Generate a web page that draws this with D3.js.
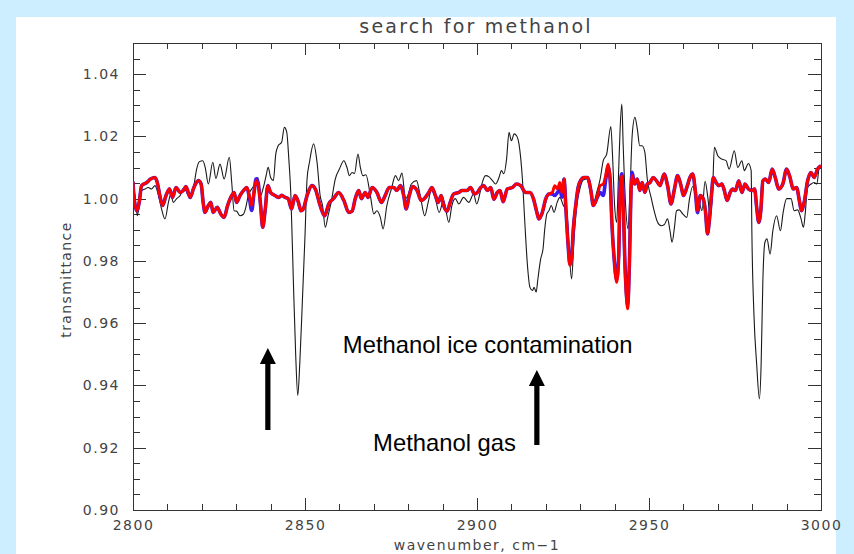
<!DOCTYPE html>
<html>
<head>
<meta charset="utf-8">
<script src="https://cdn.jsdelivr.net/npm/d3@7"></script>
<style>
  body { margin: 0; background: #cdeefe; }
  svg { display: block; }
  .axis text { font-family: "DejaVu Sans", sans-serif; font-size: 14px; fill: #444; letter-spacing: 1.5px; }
  .axis line { stroke: #333; }
</style>
</head>
<body>
<div id="chart"></div>
<script>
// measured spectrum (black) and two model fits (blue under red), [wavenumber, transmittance]
const blackSpectrum = [
  [2800.0,1.0052],[2800.6,1.0010],[2801.25,0.9945],[2801.8,0.9978],[2802.5,1.0026],[2803.5,1.0031],[2804.4,1.0036],[2805.4,1.0031],
  [2806.4,1.0042],[2807.4,1.0010],[2808.3,0.9967],[2809.3,0.9935],[2810.3,0.9988],[2811.0,1.0015],[2811.7,0.9988],[2812.7,1.0000],
  [2813.7,1.0010],[2814.8,1.0036],[2815.8,1.0015],[2816.8,1.0000],[2817.7,1.0042],[2818.5,1.0095],[2819.3,1.0119],[2820.3,1.0122],
  [2821.0,1.0100],[2821.9,1.0047],[2823.2,1.0117],[2824.1,1.0065],[2825.3,1.0111],[2826.5,1.0063],[2828.0,1.0133],[2828.7,1.0052],
  [2829.4,0.9961],[2830.1,0.9960],[2831.1,0.9945],[2832.1,0.9950],[2832.8,0.9972],[2833.5,1.0010],[2834.5,1.0031],[2835.5,1.0047],
  [2836.3,1.0068],[2837.1,1.0010],[2837.9,1.0036],[2838.7,1.0074],[2839.3,1.0101],[2840.0,1.0068],[2840.8,1.0058],[2841.5,1.0143],
  [2842.2,1.0170],[2843.2,1.0181],[2844.0,1.0229],[2844.7,1.0213],[2845.3,1.0127],[2845.9,1.0010],[2846.6,0.9742],[2847.3,0.9496],
  [2847.9,0.9368],[2848.5,0.9475],[2849.3,0.9689],[2850.0,0.9881],[2850.6,1.0063],[2851.3,1.0117],[2852.5,1.0176],[2853.5,1.0117],
  [2854.4,1.0010],[2855.1,0.9978],[2855.9,0.9908],[2856.7,0.9945],[2857.6,0.9988],[2858.8,1.0063],[2860.0,1.0095],[2861.3,1.0122],
  [2862.2,1.0100],[2862.9,1.0074],[2863.7,1.0084],[2864.4,1.0081],[2865.4,1.0143],[2866.1,1.0100],[2866.8,1.0074],[2867.7,1.0077],
  [2869.0,1.0010],[2870.0,0.9951],[2870.9,0.9961],[2871.9,0.9940],[2872.7,0.9903],[2873.8,0.9978],[2875.1,1.0031],[2876.3,1.0074],
  [2877.2,1.0058],[2878.2,1.0082],[2879.2,1.0000],[2879.9,1.0010],[2880.9,1.0047],[2882.4,1.0058],[2883.5,1.0010],[2884.8,0.9945],
  [2885.8,0.9988],[2886.7,1.0026],[2887.7,1.0010],[2889.0,0.9956],[2890.3,0.9994],[2891.8,0.9924],[2892.7,0.9978],[2893.7,1.0000],
  [2894.7,0.9983],[2896.1,1.0004],[2897.6,0.9988],[2899.0,1.0015],[2899.9,0.9983],[2900.9,1.0020],[2901.5,1.0050],[2902.5,1.0074],
  [2903.5,1.0070],[2904.5,1.0058],[2905.4,1.0047],[2906.4,1.0068],[2907.1,1.0090],[2907.8,1.0080],[2908.6,1.0127],[2909.3,1.0213],
  [2910.0,1.0186],[2910.8,1.0208],[2911.5,1.0202],[2912.2,1.0176],[2913.2,1.0063],[2913.9,0.9924],[2914.6,0.9796],[2915.4,0.9715],
  [2916.1,0.9705],[2916.6,0.9715],[2917.2,0.9700],[2917.7,0.9742],[2918.5,0.9806],[2919.2,0.9839],[2919.7,0.9903],[2920.3,0.9951],
  [2920.9,0.9961],[2921.6,0.9978],[2922.4,0.9956],[2923.3,0.9988],[2924.1,1.0004],[2925.1,0.9978],[2926.1,0.9961],[2926.7,0.9849],
  [2927.5,0.9742],[2928.2,0.9870],[2929.0,0.9978],[2929.9,1.0031],[2930.9,1.0060],[2931.9,1.0063],[2932.8,1.0036],[2933.8,0.9983],
  [2934.8,1.0020],[2935.8,1.0063],[2936.7,1.0122],[2937.7,1.0143],[2938.9,1.0232],[2939.4,1.0138],[2940.0,0.9978],[2940.6,0.9924],
  [2941.1,1.0063],[2941.6,1.0224],[2942.1,1.0304],[2942.5,1.0170],[2943.2,0.9978],[2943.9,0.9903],[2944.5,1.0030],[2945.1,1.0202],
  [2945.9,1.0261],[2946.6,1.0224],[2947.3,1.0170],[2948.0,1.0170],[2948.8,1.0149],[2949.5,1.0063],[2950.0,1.0031],[2950.6,1.0004],
  [2951.5,0.9961],[2952.5,0.9924],[2953.5,0.9913],[2954.4,0.9916],[2955.4,0.9935],[2956.1,0.9897],[2956.7,0.9860],[2957.4,0.9908],
  [2958.0,0.9961],[2958.8,0.9964],[2959.8,0.9951],[2961.0,0.9940],[2961.7,0.9994],[2962.7,1.0039],[2963.7,1.0004],[2964.6,0.9988],
  [2965.4,0.9961],[2966.3,1.0056],[2967.1,1.0004],[2967.8,0.9940],[2968.5,1.0026],[2969.0,1.0165],[2970.0,1.0138],[2971.2,1.0127],
  [2972.4,1.0122],[2973.3,1.0095],[2974.8,1.0154],[2975.8,1.0100],[2977.0,1.0122],[2977.7,1.0090],[2978.9,1.0113],[2979.7,1.0090],
  [2979.9,0.9897],[2980.5,0.9630],[2981.3,0.9469],[2982.1,0.9357],[2982.6,0.9469],[2983.1,0.9737],[2983.7,0.9860],[2984.3,0.9871],
  [2985.2,0.9822],[2986.0,0.9897],[2987.1,0.9945],[2988.2,0.9897],[2989.0,0.9956],[2990.0,1.0000],[2991.3,1.0000],[2992.2,0.9961],
  [2993.2,0.9964],[2994.2,0.9935],[2994.9,0.9908],[2995.4,0.9951],[2996.1,1.0036],[2997.1,1.0047],[2998.0,1.0052],[2998.8,1.0047],
  [2999.5,1.0100],[3000.0,1.0100]
];

const redModel = [
  [2800.0,1.0055],[2800.3,1.0000],[2801.1,0.9961],[2801.8,0.9988],[2802.5,1.0042],[2804.0,1.0052],[2805.1,1.0063],[2806.4,1.0068],
  [2807.1,1.0050],[2807.8,1.0010],[2808.6,0.9978],[2809.6,1.0010],[2810.6,1.0031],[2811.5,1.0004],[2812.5,1.0036],[2813.7,1.0020],
  [2814.6,1.0026],[2815.4,1.0039],[2816.6,1.0004],[2817.7,1.0036],[2819.0,1.0058],[2819.8,1.0047],[2820.4,0.9988],[2820.9,0.9956],
  [2821.9,0.9978],[2822.6,0.9988],[2823.3,0.9956],[2824.5,0.9972],[2825.5,0.9951],[2826.5,0.9940],[2827.5,0.9978],[2828.7,1.0010],
  [2829.4,1.0020],[2830.1,0.9988],[2831.1,1.0010],[2832.1,1.0026],[2833.1,1.0036],[2833.8,1.0010],[2834.5,0.9978],[2835.2,1.0026],
  [2835.8,1.0058],[2836.4,1.0042],[2837.1,0.9978],[2837.7,0.9908],[2838.4,0.9961],[2839.2,1.0042],[2840.0,1.0020],[2841.3,1.0010],
  [2842.4,1.0004],[2843.2,1.0011],[2844.2,1.0004],[2845.1,1.0000],[2846.1,0.9967],[2847.1,1.0010],[2848.1,0.9988],[2848.8,0.9961],
  [2849.5,0.9967],[2850.6,1.0010],[2852.0,1.0042],[2853.0,1.0031],[2854.4,0.9978],[2855.7,0.9945],[2856.9,0.9983],[2858.3,1.0000],
  [2859.8,1.0020],[2861.3,0.9994],[2862.7,0.9956],[2863.7,0.9960],[2864.6,1.0000],[2865.6,1.0026],[2866.4,1.0000],[2867.5,1.0020],
  [2868.3,1.0004],[2869.5,1.0036],[2870.9,1.0020],[2872.2,0.9988],[2873.3,1.0010],[2874.5,1.0036],[2875.8,1.0036],[2876.7,1.0026],
  [2877.7,1.0042],[2878.7,1.0010],[2879.4,0.9967],[2880.3,1.0010],[2881.3,1.0039],[2882.6,1.0026],[2883.8,0.9994],[2885.0,1.0004],
  [2886.0,1.0020],[2886.9,1.0036],[2887.9,1.0010],[2888.7,0.9988],[2889.6,1.0010],[2890.3,0.9978],[2891.3,0.9960],[2892.2,0.9988],
  [2893.2,1.0015],[2894.7,1.0020],[2895.6,1.0026],[2897.1,1.0026],[2898.1,1.0036],[2899.3,1.0015],[2900.1,1.0020],[2901.1,1.0036],
  [2902.0,1.0042],[2903.0,1.0026],[2904.0,1.0036],[2904.9,0.9998],[2905.9,1.0020],[2906.7,1.0026],[2907.6,0.9990],[2908.8,1.0031],
  [2910.3,1.0036],[2911.5,1.0047],[2912.7,1.0042],[2914.1,1.0020],[2915.4,1.0020],[2916.4,1.0000],[2917.4,0.9956],[2918.0,0.9935],
  [2919.0,0.9956],[2920.0,1.0000],[2920.9,1.0015],[2921.9,1.0020],[2922.6,1.0042],[2923.4,1.0031],[2924.1,1.0052],[2924.7,1.0020],
  [2925.3,1.0063],[2925.9,0.9956],[2926.5,0.9849],[2927.0,0.9785],[2927.5,0.9806],[2928.0,0.9903],[2928.7,0.9978],[2929.4,1.0036],
  [2930.1,1.0058],[2931.1,1.0068],[2932.1,1.0068],[2933.1,1.0026],[2933.8,0.9978],[2934.8,1.0000],[2935.8,1.0042],[2936.7,1.0047],
  [2937.4,1.0074],[2938.1,1.0111],[2938.7,1.0063],[2939.2,0.9924],[2939.8,0.9817],[2940.6,0.9731],[2941.2,0.9817],[2941.6,1.0031],
  [2942.1,1.0074],[2942.5,0.9988],[2942.9,0.9817],[2943.4,0.9689],[2943.8,0.9646],[2944.3,0.9785],[2944.7,0.9988],[2945.1,1.0074],
  [2945.8,1.0047],[2946.6,1.0063],[2947.3,1.0026],[2948.0,1.0052],[2948.8,1.0020],[2949.5,1.0047],[2950.3,1.0052],[2951.2,1.0068],
  [2952.2,1.0057],[2953.2,1.0042],[2954.4,1.0079],[2955.4,1.0042],[2956.4,0.9983],[2957.4,1.0031],[2958.3,1.0074],[2959.3,1.0042],
  [2960.0,1.0010],[2961.0,1.0036],[2961.9,1.0068],[2962.7,1.0079],[2963.5,1.0026],[2964.1,0.9961],[2964.9,1.0010],[2965.6,1.0004],
  [2966.4,0.9961],[2967.0,0.9887],[2967.5,0.9924],[2968.1,1.0004],[2968.7,1.0068],[2969.5,1.0052],[2970.3,1.0042],[2971.2,1.0047],
  [2971.9,1.0026],[2972.7,0.9994],[2973.6,1.0020],[2974.3,1.0031],[2975.1,1.0026],[2976.1,1.0057],[2977.0,1.0020],[2977.9,1.0047],
  [2978.9,1.0031],[2979.9,1.0026],[2980.7,1.0031],[2981.3,0.9972],[2981.9,0.9924],[2982.5,0.9961],[2983.1,1.0057],[2983.8,1.0063],
  [2984.8,1.0052],[2985.8,1.0095],[2986.7,1.0068],[2987.7,1.0031],[2988.9,1.0047],[2990.0,1.0095],[2991.0,1.0068],[2991.9,1.0031],
  [2992.9,1.0036],[2993.7,0.9994],[2994.3,0.9961],[2995.2,0.9994],[2996.1,1.0057],[2997.1,1.0084],[2998.0,1.0068],[2999.0,1.0095],
  [3000.0,1.0106]
];

const blueModel = [
  [2800.0,1.0055],[2800.3,1.0000],[2801.1,0.9961],[2801.8,0.9988],[2802.5,1.0042],[2804.0,1.0052],[2805.1,1.0063],[2806.4,1.0068],
  [2807.1,1.0050],[2807.8,1.0010],[2808.6,0.9978],[2809.6,1.0010],[2810.6,1.0031],[2811.5,1.0004],[2812.5,1.0036],[2813.7,1.0020],
  [2814.6,1.0026],[2815.4,1.0039],[2816.6,1.0004],[2817.7,1.0036],[2819.0,1.0058],[2819.8,1.0047],[2820.4,0.9988],[2820.9,0.9956],
  [2821.9,0.9978],[2822.6,0.9988],[2823.3,0.9956],[2824.5,0.9972],[2825.5,0.9951],[2826.5,0.9940],[2827.5,0.9978],[2828.7,1.0010],
  [2829.4,1.0020],[2830.1,0.9988],[2831.1,1.0010],[2832.1,1.0026],[2833.1,1.0036],[2833.8,1.0005],[2834.5,0.9962],[2835.2,1.0020],
  [2835.8,1.0064],[2836.4,1.0050],[2837.1,0.9978],[2837.7,0.9908],[2838.4,0.9961],[2839.2,1.0042],[2840.0,1.0020],[2841.3,1.0010],
  [2842.4,1.0004],[2843.2,1.0011],[2844.2,1.0004],[2845.1,1.0000],[2846.1,0.9967],[2847.1,1.0010],[2848.1,0.9988],[2848.8,0.9961],
  [2849.5,0.9967],[2850.6,1.0010],[2852.0,1.0042],[2853.0,1.0031],[2854.4,0.9978],[2855.7,0.9945],[2856.9,0.9983],[2858.3,1.0000],
  [2859.8,1.0020],[2861.3,0.9994],[2862.7,0.9956],[2863.7,0.9960],[2864.6,1.0000],[2865.6,1.0026],[2866.4,1.0000],[2867.5,1.0020],
  [2868.3,1.0004],[2869.5,1.0036],[2870.9,1.0020],[2872.2,0.9988],[2873.3,1.0010],[2874.5,1.0036],[2875.8,1.0036],[2876.7,1.0026],
  [2877.7,1.0042],[2878.7,1.0010],[2879.4,0.9967],[2880.3,1.0010],[2881.3,1.0039],[2882.6,1.0026],[2883.8,0.9994],[2885.0,1.0004],
  [2886.0,1.0020],[2886.9,1.0036],[2887.9,1.0010],[2888.7,0.9988],[2889.6,1.0010],[2890.3,0.9978],[2891.3,0.9960],[2892.2,0.9988],
  [2893.2,1.0015],[2894.7,1.0020],[2895.6,1.0026],[2897.1,1.0026],[2898.1,1.0036],[2899.3,1.0015],[2900.1,1.0020],[2901.1,1.0036],
  [2902.0,1.0042],[2903.0,1.0026],[2904.0,1.0036],[2904.9,0.9998],[2905.9,1.0020],[2906.7,1.0026],[2907.6,0.9990],[2908.8,1.0031],
  [2910.3,1.0036],[2911.5,1.0047],[2912.7,1.0042],[2914.1,1.0020],[2915.4,1.0020],[2916.4,1.0000],[2917.4,0.9956],[2918.0,0.9935],
  [2919.0,0.9956],[2920.0,1.0000],[2920.9,1.0015],[2921.9,1.0015],[2922.6,1.0010],[2923.4,1.0020],[2924.1,1.0030],[2924.7,1.0005],
  [2925.3,1.0063],[2925.9,0.9956],[2926.5,0.9849],[2927.0,0.9790],[2927.5,0.9810],[2928.0,0.9903],[2928.7,0.9978],[2929.4,1.0036],
  [2930.1,1.0058],[2931.1,1.0068],[2932.1,1.0068],[2933.1,1.0026],[2933.8,0.9978],[2934.8,1.0000],[2935.8,1.0020],[2936.7,1.0010],
  [2937.4,1.0060],[2938.1,1.0100],[2938.7,1.0063],[2939.2,0.9924],[2939.8,0.9817],[2940.6,0.9740],[2941.2,0.9817],[2941.6,1.0040],
  [2942.1,1.0080],[2942.5,0.9995],[2942.9,0.9830],[2943.4,0.9700],[2943.8,0.9660],[2944.3,0.9790],[2944.7,0.9995],[2945.1,1.0085],
  [2945.8,1.0047],[2946.6,1.0063],[2947.3,1.0026],[2948.0,1.0052],[2948.8,1.0020],[2949.5,1.0047],[2950.3,1.0052],[2951.2,1.0068],
  [2952.2,1.0057],[2953.2,1.0042],[2954.4,1.0079],[2955.4,1.0042],[2956.4,0.9983],[2957.4,1.0031],[2958.3,1.0074],[2959.3,1.0042],
  [2960.0,1.0010],[2961.0,1.0036],[2961.9,1.0068],[2962.7,1.0079],[2963.5,1.0020],[2964.1,0.9955],[2964.9,1.0010],[2965.6,1.0004],
  [2966.4,0.9961],[2967.0,0.9887],[2967.5,0.9924],[2968.1,1.0004],[2968.7,1.0068],[2969.5,1.0052],[2970.3,1.0042],[2971.2,1.0047],
  [2971.9,1.0026],[2972.7,0.9994],[2973.6,1.0020],[2974.3,1.0031],[2975.1,1.0026],[2976.1,1.0057],[2977.0,1.0020],[2977.9,1.0047],
  [2978.9,1.0031],[2979.9,1.0026],[2980.7,1.0031],[2981.3,0.9972],[2981.9,0.9924],[2982.5,0.9961],[2983.1,1.0057],[2983.8,1.0063],
  [2984.8,1.0052],[2985.8,1.0095],[2986.7,1.0068],[2987.7,1.0031],[2988.9,1.0047],[2990.0,1.0095],[2991.0,1.0068],[2991.9,1.0031],
  [2992.9,1.0036],[2993.7,0.9994],[2994.3,0.9961],[2995.2,0.9994],[2996.1,1.0057],[2997.1,1.0084],[2998.0,1.0068],[2999.0,1.0095],
  [3000.0,1.0106]
];

const xTicks = [2800, 2850, 2900, 2950, 3000];
const yTicks = [0.90, 0.92, 0.94, 0.96, 0.98, 1.00, 1.02, 1.04];

// annotations: text [wavenumber, transmittance] of the baseline start, arrows [wavenumber, tail, tip]
const notes = [
  { text: "Methanol ice contamination", at: [2861.0, 0.9504] },
  { text: "Methanol gas", at: [2869.8, 0.9190] }
];
const arrows = [
  [2839.2, 0.9257, 0.9520],
  [2917.4, 0.9209, 0.9450]
];

const W = 854, H = 554;
const plot = { left: 133, right: 821, top: 43, bottom: 510 };

const svg = d3.select("#chart")
  .append("svg")
  .attr("width", W)
  .attr("height", H);

// white slide panel on the light blue background
svg.append("rect")
  .attr("x", 16).attr("y", 17)
  .attr("width", 820).attr("height", H - 17)
  .attr("fill", "#fff");

const x = d3.scaleLinear().domain([2800, 3000]).range([plot.left, plot.right]);
const y = d3.scaleLinear().domain([0.90, 1.05]).range([plot.bottom, plot.top]);

const minorX = d3.range(2810, 3000, 10).filter(d => d % 50 !== 0);
const minorY = d3.range(0, 30).map(i => +(0.905 + i * 0.005).toFixed(3)).filter(d => Math.round(d * 1000) % 20 !== 0 && d < 1.05);

function axisGroup(axis, tx, ty) {
  svg.append("g")
    .attr("class", "axis")
    .attr("transform", `translate(${tx},${ty})`)
    .attr("shape-rendering", "crispEdges")
    .call(axis)
    .call(g => g.select(".domain").remove());
}

// bottom + top
axisGroup(d3.axisBottom(x).tickValues(xTicks).tickSize(-12).tickPadding(10).tickFormat(d3.format("d")), 0, plot.bottom);
axisGroup(d3.axisBottom(x).tickValues(minorX).tickSize(-6).tickFormat(""), 0, plot.bottom);
axisGroup(d3.axisTop(x).tickValues(xTicks).tickSize(-12).tickFormat(""), 0, plot.top);
axisGroup(d3.axisTop(x).tickValues(minorX).tickSize(-6).tickFormat(""), 0, plot.top);
// left + right
axisGroup(d3.axisLeft(y).tickValues(yTicks).tickSize(-13).tickPadding(13).tickFormat(d3.format(".2f")), plot.left, 0);
axisGroup(d3.axisLeft(y).tickValues(minorY).tickSize(-7).tickFormat(""), plot.left, 0);
axisGroup(d3.axisRight(y).tickValues(yTicks).tickSize(-13).tickFormat(""), plot.right, 0);
axisGroup(d3.axisRight(y).tickValues(minorY).tickSize(-7).tickFormat(""), plot.right, 0);

// frame
svg.append("rect")
  .attr("x", plot.left + 0.5).attr("y", plot.top + 0.5)
  .attr("width", plot.right - plot.left).attr("height", plot.bottom - plot.top)
  .attr("fill", "none")
  .attr("stroke", "#333")
  .attr("shape-rendering", "crispEdges");

svg.append("clipPath").attr("id", "clip")
  .append("rect")
  .attr("x", plot.left).attr("y", plot.top)
  .attr("width", plot.right - plot.left).attr("height", plot.bottom - plot.top);

const line = d3.line().curve(d3.curveMonotoneX).x(d => x(d[0])).y(d => y(d[1]));

const curves = svg.append("g").attr("clip-path", "url(#clip)");
curves.append("path").datum(blackSpectrum)
  .attr("d", line).attr("fill", "none")
  .attr("stroke", "#1a1a1a").attr("stroke-width", 1.1);
curves.append("path").datum(blueModel)
  .attr("d", line).attr("fill", "none")
  .attr("stroke", "#3b1cf0").attr("stroke-width", 3.6).attr("stroke-linejoin", "round");
curves.append("path").datum(redModel)
  .attr("d", line).attr("fill", "none")
  .attr("stroke", "#ff0000").attr("stroke-width", 2.9).attr("stroke-linejoin", "round");

// titles
const labelFont = "'DejaVu Sans', sans-serif";
svg.append("text")
  .attr("x", 476).attr("y", 33)
  .attr("text-anchor", "middle")
  .style("font-family", labelFont).style("font-size", "19px")
  .style("letter-spacing", "2.2px").attr("fill", "#444")
  .text("search for methanol");

svg.append("text")
  .attr("x", 477).attr("y", 550)
  .attr("text-anchor", "middle")
  .style("font-family", labelFont).style("font-size", "14px")
  .style("letter-spacing", "1.5px").attr("fill", "#444")
  .text("wavenumber, cm\u22121");

svg.append("text")
  .attr("transform", `translate(71,${(plot.top + plot.bottom) / 2 + 3})rotate(-90)`)
  .attr("text-anchor", "middle")
  .style("font-family", labelFont).style("font-size", "14px")
  .style("letter-spacing", "1.4px").attr("fill", "#444")
  .text("transmittance");

// annotations
svg.selectAll(".note")
  .data(notes)
  .enter().append("text")
  .attr("class", "note")
  .attr("x", d => x(d.at[0]))
  .attr("y", d => y(d.at[1]))
  .style("font-family", "'Liberation Sans', Arial, sans-serif")
  .style("font-size", "23.8px")
  .attr("fill", "#000")
  .text(d => d.text);

svg.selectAll(".arrow")
  .data(arrows)
  .enter().append("path")
  .attr("class", "arrow")
  .attr("fill", "#000")
  .attr("d", d => {
    const cx = x(d[0]), tail = y(d[1]), tip = y(d[2]);
    const hw = 8, sw = 2.6, hh = 16;
    return `M${cx - sw},${tail} L${cx - sw},${tip + hh} L${cx - hw},${tip + hh} L${cx},${tip} ` +
           `L${cx + hw},${tip + hh} L${cx + sw},${tip + hh} L${cx + sw},${tail} Z`;
  });
</script>
</body>
</html>
